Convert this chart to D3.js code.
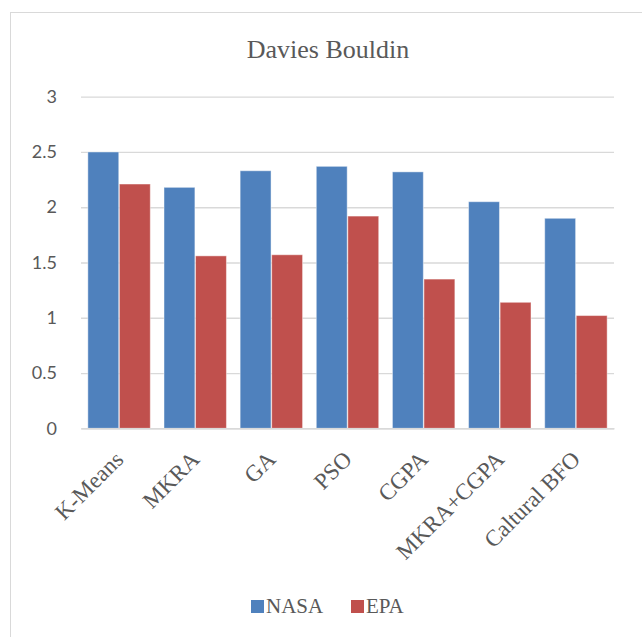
<!DOCTYPE html>
<html><head><meta charset="utf-8">
<script src="https://cdn.jsdelivr.net/npm/d3@7"></script>
<style>body{margin:0;background:#fff}</style>
</head><body>
<svg id="c" width="642" height="637"></svg>
<script>
const categories = ["K-Means","MKRA","GA","PSO","CGPA","MKRA+CGPA","Caltural BFO"];
const seriesNames = ["NASA","EPA"];
const nasa = [2.50,2.18,2.33,2.37,2.32,2.05,1.90];
const epa  = [2.21,1.56,1.57,1.92,1.35,1.14,1.02];
const yTicks = [0,0.5,1,1.5,2,2.5,3];
const colors = {NASA:"#4F81BD", EPA:"#C0504D"};
const serif = "'Liberation Serif','Times New Roman',serif";

const svg = d3.select("#c");
svg.append("rect").attr("x",10.5).attr("y",12.5).attr("width",700).attr("height",700)
  .attr("fill","#fff").attr("stroke","#d9d9d9").attr("stroke-width",1);

const x0 = d3.scaleBand().domain(categories).range([81,614]).paddingInner(0.18).paddingOuter(0.09);
const x1 = d3.scaleBand().domain(seriesNames).range([0,x0.bandwidth()]).paddingInner(0.02);
const y = d3.scaleLinear().domain([0,3]).range([428.3,96.7]);

// gridlines + y tick labels
const yAxis = d3.axisLeft(y).tickValues(yTicks).tickSize(-(614-81)).tickFormat(d3.format("~g")).tickPadding(24);
const gy = svg.append("g").attr("transform","translate(81,0)").call(yAxis);
gy.select(".domain").remove();
gy.selectAll(".tick line").attr("stroke","#d9d9d9").attr("stroke-width",1.3);
gy.selectAll(".tick text").attr("fill","#595959").style("font-family","Lato, 'Open Sans', sans-serif").style("font-size","18px");

const data = categories.map((c,i)=>({cat:c, vals:[{s:"NASA",v:nasa[i]},{s:"EPA",v:epa[i]}]}));
svg.append("g").selectAll("g.grp").data(data).join("g").attr("class","grp")
  .attr("transform",d=>`translate(${x0(d.cat)},0)`)
  .selectAll("rect").data(d=>d.vals).join("rect")
  .attr("x",d=>x1(d.s)).attr("width",x1.bandwidth())
  .attr("y",d=>y(d.v)).attr("height",d=>y(0)-y(d.v))
  .attr("fill",d=>colors[d.s]).attr("stroke","#ffffff").attr("stroke-opacity",0.45).attr("stroke-width",1);

// category axis
const xAxis = d3.axisBottom(x0).tickSize(0).tickPadding(0);
const gx = svg.append("g").attr("transform",`translate(0,${y(0)})`).call(xAxis);
gx.select(".domain").attr("stroke","#d9d9d9").attr("stroke-width",1.5);
gx.selectAll(".tick text").attr("fill","#595959")
  .style("font-family",serif).style("font-size","23px")
  .attr("text-anchor","end").attr("dy",0).attr("x",-19).attr("y",27)
  .attr("transform","rotate(-45)");

// title
svg.append("text").attr("x",328).attr("y",58).attr("text-anchor","middle")
  .attr("fill","#595959").style("font-family",serif).style("font-size","26px")
  .text("Davies Bouldin");

// legend
const leg = svg.append("g").attr("transform","translate(251,613)");
const items = [{s:"NASA",x:0},{s:"EPA",x:100}];
items.forEach(it=>{
  leg.append("rect").attr("x",it.x).attr("y",-13).attr("width",13).attr("height",13).attr("fill",colors[it.s]);
  leg.append("text").attr("x",it.x+15).attr("y",0).attr("fill","#595959")
    .style("font-family",serif).style("font-size","21px").text(it.s);
});
</script>
</body></html>
